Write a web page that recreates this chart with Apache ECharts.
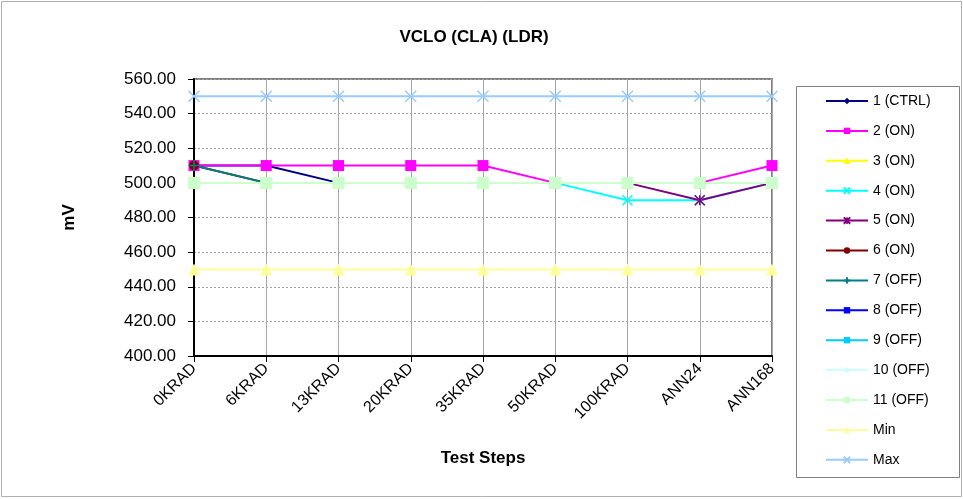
<!DOCTYPE html>
<html>
<head>
<meta charset="utf-8">
<script src="https://cdn.jsdelivr.net/npm/echarts@6/dist/echarts.min.js"></script>
<style>
  html, body { margin: 0; padding: 0; background: #fff; }
  #chart { width: 963px; height: 499px; }
</style>
</head>
<body>
<div id="chart"></div>
<script>
// categories (test steps)
const steps = ["0KRAD", "6KRAD", "13KRAD", "20KRAD", "35KRAD", "50KRAD", "100KRAD", "ANN24", "ANN168"];

// values in mV
const s1 = [510, 510, 500, 500, 500, 500, 500, 500, 500];
const s2 = [510, 510, 510, 510, 510, 500, 500, 500, 510];
const s3 = [500, 500, 500, 500, 500, 500, 500, 500, 500];
const s4 = [500, 500, 500, 500, 500, 500, 490, 490, 500];
const s5 = [500, 500, 500, 500, 500, 500, 500, 490, 500];
const s6 = [510, 500, 500, 500, 500, 500, 500, 500, 500];
const s7 = [510, 500, 500, 500, 500, 500, 500, 500, 500];
const s8 = [500, 500, 500, 500, 500, 500, 500, 500, 500];
const s9 = [500, 500, 500, 500, 500, 500, 500, 500, 500];
const s10 = [500, 500, 500, 500, 500, 500, 500, 500, 500];
const s11 = [500, 500, 500, 500, 500, 500, 500, 500, 500];
const minLimit = [450, 450, 450, 450, 450, 450, 450, 450, 450];
const maxLimit = [550, 550, 550, 550, 550, 550, 550, 550, 550];

const yTicks = { min: 400, max: 560, step: 20 };

const FONT = "Liberation Sans, Arial, sans-serif";
const xSym = "path://M0,0L10,10M10,0L0,10";
const starSym = "path://M0,0L10,10M10,0L0,10M5,0L5,10";
const plusSym = "path://M5,0L5,10M0,5L10,5";

function mk(name, data, color, symbol, size, stroke) {
  const s = {
    name: name,
    type: "line",
    data: data,
    symbol: symbol,
    symbolSize: size,
    lineStyle: { color: color, width: 2 },
    itemStyle: { color: color },
    animation: false
  };
  if (stroke) {
    s.itemStyle = { color: "none", borderColor: color, borderWidth: 1.5 };
  }
  return s;
}

const series = [
  mk("1 (CTRL)", s1, "#000080", "diamond", 8),
  mk("2 (ON)", s2, "#FF00FF", "rect", 11),
  mk("3 (ON)", s3, "#FFFF00", "triangle", 11),
  mk("4 (ON)", s4, "#00FFFF", xSym, 10, true),
  mk("5 (ON)", s5, "#800080", starSym, 10, true),
  mk("6 (ON)", s6, "#800000", "circle", 10),
  mk("7 (OFF)", s7, "#008080", plusSym, 11, true),
  mk("8 (OFF)", s8, "#0000FF", "rect", 4),
  mk("9 (OFF)", s9, "#00CCFF", "rect", 4),
  mk("10 (OFF)", s10, "#CCFFFF", "diamond", 9),
  mk("11 (OFF)", s11, "#CCFFCC", "rect", 12),
  mk("Min", minLimit, "#FFFF99", "triangle", 12),
  mk("Max", maxLimit, "#99CCFF", xSym, 11, true)
];

const chart = echarts.init(document.getElementById("chart"));
chart.setOption({
  backgroundColor: "#fff",
  animation: false,
  title: {
    text: "VCLO (CLA) (LDR)",
    left: 469,
    top: 24,
    textAlign: "center",
    textStyle: { fontFamily: FONT, fontSize: 17, fontWeight: "bold", color: "#000" }
  },
  graphic: [
    { type: "rect", shape: { x: 1.5, y: 1.5, width: 960, height: 495 },
      style: { fill: "none", stroke: "#b0b0b0", lineWidth: 1 }, z: -1 },
    { type: "rect", shape: { x: 796.5, y: 86.5, width: 163, height: 391 },
      style: { fill: "#fff", stroke: "#808080", lineWidth: 1 }, z: -1 }
  ],
  legend: {
    orient: "vertical",
    left: 825,
    top: 94,
    padding: 0,
    itemWidth: 42,
    itemHeight: 8,
    itemGap: 15.9,
    textStyle: { fontFamily: FONT, fontSize: 14, color: "#000" },
    data: series.map(s => s.name)
  },
  grid: {
    left: 194, right: 191, top: 79, bottom: 143,
    show: true, borderColor: "#808080", borderWidth: 2, backgroundColor: "#fff"
  },
  xAxis: {
    type: "category",
    data: steps,
    boundaryGap: false,
    name: "Test Steps",
    nameLocation: "middle",
    nameGap: 94,
    nameTextStyle: { fontFamily: FONT, fontSize: 17, fontWeight: "bold", color: "#000" },
    axisLine: { lineStyle: { color: "#000", width: 2 } },
    axisTick: { show: true, inside: false, length: 6, lineStyle: { color: "#000" } },
    axisLabel: { rotate: 45, fontFamily: FONT, fontSize: 16, color: "#000", margin: 10 },
    splitLine: { show: true, lineStyle: { color: "#a8a8a8", width: 1 } }
  },
  yAxis: {
    type: "value",
    min: yTicks.min,
    max: yTicks.max,
    interval: yTicks.step,
    name: "mV",
    nameLocation: "middle",
    nameGap: 116,
    nameTextStyle: { fontFamily: FONT, fontSize: 17, fontWeight: "bold", color: "#000" },
    axisLine: { show: true, lineStyle: { color: "#000", width: 2 } },
    axisTick: { show: true, inside: false, length: 6, lineStyle: { color: "#000" } },
    axisLabel: {
      fontFamily: FONT, fontSize: 17, color: "#000", margin: 18,
      formatter: v => v.toFixed(2)
    },
    splitLine: { show: true, lineStyle: { color: "#a0a0a0", type: [2, 2], width: 1 } }
  },
  series: series
});
</script>
</body>
</html>
